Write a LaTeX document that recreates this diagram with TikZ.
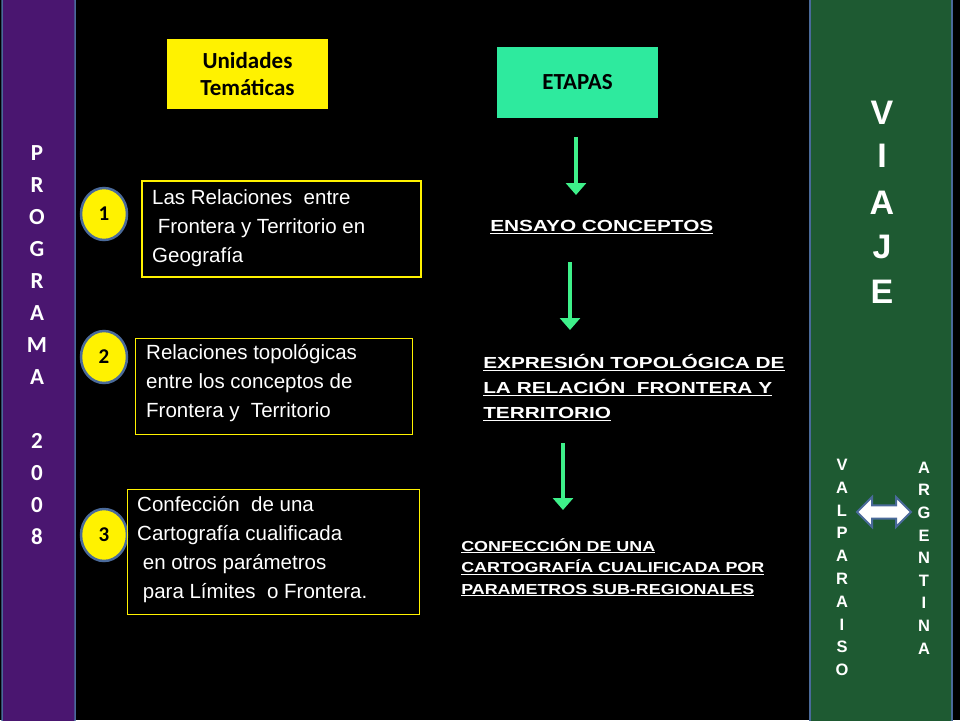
\documentclass[tikz,border=0pt]{standalone}
\usepackage{fontspec}
\setmainfont{Liberation Sans}
\newfontfamily\calfont{Carlito}
\usetikzlibrary{arrows.meta,shapes.arrows,shapes.geometric}
\definecolor{purp}{HTML}{4A1670}
\definecolor{grn}{HTML}{1E5A32}
\definecolor{edge}{HTML}{4A6A9A}
\definecolor{arr}{HTML}{3EF08A}
\definecolor{etap}{HTML}{2EEA9E}
\begin{document}
\begin{tikzpicture}[x=1pt,y=-1pt,
 let/.style={text=white,font=\calfont\bfseries\fontsize{23}{23}\selectfont,anchor=center},
 vl/.style={text=white,font=\bfseries\fontsize{34}{34}\selectfont},
 sl/.style={text=white,font=\bfseries\fontsize{16.5}{16.5}\selectfont},
 num/.style={ellipse,fill=yellow,draw=edge,line width=2.5pt,minimum width=46pt,minimum height=52pt,font=\calfont\bfseries\fontsize{21}{21}\selectfont,inner sep=0pt},
 tbox/.style={text=white,anchor=north west,align=left,font=\fontsize{20.5}{29}\selectfont,inner sep=0pt},
 stage/.style={text=white,anchor=north west,align=left,inner sep=0pt,xscale=1.3,transform shape},
 garr/.style={draw=arr,line width=3.5pt,-{Triangle[length=12pt,width=20pt]}}]
\fill[black] (0,0) rectangle (960,720);
\useasboundingbox (0,0) rectangle (960,720);
\draw[fill=purp,draw=edge,line width=1.5pt,rounded corners=10pt] (2,-10) rectangle (75,730);
\draw[fill=grn,draw=edge,line width=1.5pt] (810,-5) rectangle (952,725);
\foreach \c [count=\i] in {P,R,O,G,R,A,M,A,{},2,0,0,8}
  \node[let] (p\i) at (37,121+32*\i) {\c};
\foreach \c/\y [count=\i] in {V/113,I/156,A/203,J/247,E/292}
  \node[vl] (v\i) at (882,\y) {\c};
\foreach \c [count=\i] in {V,A,L,P,A,R,A,I,S,O}
  \node[sl] (va\i) at (842,442+22.8*\i) {\c};
\foreach \c [count=\i] in {A,R,G,E,N,T,I,N,A}
  \node[sl] (ar\i) at (924,445+22.6*\i) {\c};
\node[double arrow,fill=white,draw=edge,line width=2pt,minimum height=54pt,minimum width=30pt,double arrow head extend=5pt,inner sep=3pt] (da) at (884,512) {};
\node[fill=yellow,minimum width=161pt,minimum height=70pt,align=center,font=\calfont\bfseries\fontsize{23}{27}\selectfont] (ut) at (247.5,74) {Unidades\\Temáticas};
\node[fill=etap,minimum width=161pt,minimum height=71pt,font=\calfont\bfseries\fontsize{23}{27}\selectfont] (et) at (577.5,82.5) {ETAPAS};
\node[num] (n1) at (104,214) {1};
\node[num] (n2) at (104,357) {2};
\node[num] (n3) at (104,535) {3};
\draw[yellow,line width=2pt] (142,181) rectangle (421,277);
\node[tbox] (b1) at (152,189) {Las Relaciones\ \ entre\\\ Frontera y Territorio en\\Geografía};
\draw[yellow,line width=0.8pt] (135,338) rectangle (412,434);
\node[tbox] (b2) at (146,344) {Relaciones topológicas\\entre los conceptos de\\Frontera y\ \ Territorio};
\draw[yellow,line width=0.8pt] (127,489) rectangle (419,614);
\node[tbox] (b3) at (137,496) {Confección\ \ de una\\Cartografía cualificada\\\ en otros parámetros\\\ para Límites\ \ o Frontera.};
\node[stage,font=\bfseries\fontsize{16}{25}\selectfont] (s1) at (490,220) {\underline{ENSAYO CONCEPTOS}};
\node[stage,font=\bfseries\fontsize{16}{25}\selectfont] (s2) at (483,354) {\underline{EXPRESIÓN TOPOLÓGICA DE}\\\underline{LA RELACIÓN\ \ FRONTERA Y}\\\underline{TERRITORIO}};
\node[stage,font=\bfseries\fontsize{14.5}{21.5}\selectfont,xscale=0.95] (s3) at (461,538) {\underline{CONFECCIÓN DE UNA}\\\underline{CARTOGRAFÍA CUALIFICADA POR}\\\underline{PARAMETROS SUB-REGIONALES}};
\coordinate (a1) at (576,137); \coordinate (a1e) at (576,195);
\coordinate (a2) at (570,262); \coordinate (a2e) at (570,330);
\coordinate (a3) at (563,443); \coordinate (a3e) at (563,510);
\draw[garr] (a1) -- (a1e);
\draw[garr] (a2) -- (a2e);
\draw[garr] (a3) -- (a3e);
\end{tikzpicture}
\end{document}
